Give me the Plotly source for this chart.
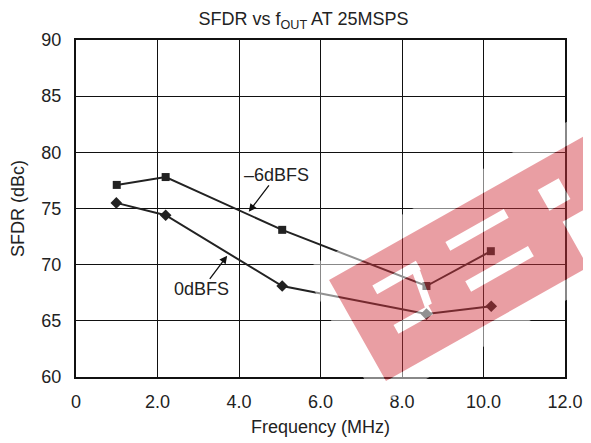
import math
import plotly.graph_objects as go

freq_6 = [1.0, 2.2, 5.06, 8.6, 10.18]
sfdr_6 = [77.1, 77.8, 73.1, 68.1, 71.2]
freq_0 = [0.99, 2.2, 5.06, 8.6, 10.19]
sfdr_0 = [75.5, 74.4, 68.1, 65.6, 66.3]

x_ticks = [0, 2, 4, 6, 8, 10, 12]
x_tick_labels = ["0", "2.0", "4.0", "6.0", "8.0", "10.0", "12.0"]
y_ticks = [60, 65, 70, 75, 80, 85, 90]

FONT = "Arial, Liberation Sans, sans-serif"
LINE = "#222222"
FS = 18

fig = go.Figure()
fig.add_trace(go.Scatter(x=freq_6, y=sfdr_6, mode="lines+markers", name="-6dBFS",
                         line=dict(color=LINE, width=2),
                         marker=dict(symbol="square", size=8, color=LINE)))
fig.add_trace(go.Scatter(x=freq_0, y=sfdr_0, mode="lines+markers", name="0dBFS",
                         line=dict(color=LINE, width=2),
                         marker=dict(symbol="diamond", size=9, color=LINE)))

fig.add_annotation(x=4.24, y=74.7, ax=4.93, ay=78.0, axref="x", ayref="y",
                   text="–6dBFS", showarrow=True, arrowhead=2, arrowsize=1.2,
                   arrowwidth=1.3, arrowcolor="#111", borderpad=0,
                   font=dict(family=FONT, size=FS, color="#222"))
fig.add_annotation(x=3.71, y=70.8, ax=3.09, ay=67.8, axref="x", ayref="y",
                   text="0dBFS", showarrow=True, arrowhead=2, arrowsize=1.2,
                   arrowwidth=1.3, arrowcolor="#111", borderpad=0,
                   font=dict(family=FONT, size=FS, color="#222"))

# ---- decorative rotated "stamp" watermark (not data) ----
ANG = math.radians(29.4)
CU, SU = math.cos(ANG), math.sin(ANG)
OX, OY = 384.0, 381.0            # stamp origin, image pixels
PL, PR, PT, PB = 74.0, 563.0, 40.0, 377.0   # plot-area pixel box


def to_paper(s, t):
    px = OX + CU * s - SU * t
    py = OY - SU * s - CU * t
    return (px - PL) / (PR - PL), (PB - py) / (PB - PT)


def sub(poly):
    pts = [to_paper(s, t) for s, t in poly]
    return "M " + " L ".join(f"{x:.4f} {y:.4f}" for x, y in pts) + " Z"


def rect(s0, s1, t0, t1):
    return [(s0, t0), (s1, t0), (s1, t1), (s0, t1)]


band = [(0, 0), (232, 0), (232, 52), (320, 52), (320, 116), (0, 116)]
holes = [
    rect(35, 85, 80, 90),
    rect(34, 74, 35, 45),
    [(70, 45), (78, 45), (84, 80), (76, 80)],
    rect(120, 187, 82, 92),
    rect(118, 190, 36, 48),
    rect(226, 250, 68, 92),
]
veil = rect(-18, 330, -18, 137)

red_path = " ".join([sub(band)] + [sub(h) for h in holes])
veil_path = " ".join([sub(veil), sub(band)] + [sub(h) for h in holes])

fig.add_shape(type="path", xref="paper", yref="paper", layer="above",
              path=veil_path, fillrule="evenodd",
              fillcolor="rgba(255,255,255,0.5)", line=dict(width=0))
fig.add_shape(type="path", xref="paper", yref="paper", layer="above",
              path=red_path, fillrule="evenodd",
              fillcolor="rgba(209,52,62,0.48)", line=dict(width=0))

fig.update_layout(
    width=591, height=443,
    margin=dict(l=68, r=34, t=32, b=74),
    paper_bgcolor="white", plot_bgcolor="white",
    showlegend=False,
    font=dict(family=FONT, size=FS, color="#222"),
    title=dict(text="SFDR vs f<sub>OUT</sub> AT 25MSPS", x=0.5, xanchor="center",
               y=0.975, yanchor="middle", font=dict(family=FONT, size=FS, color="#222")),
    xaxis=dict(range=[0, 12], tickmode="array", tickvals=x_ticks, ticktext=x_tick_labels,
               showgrid=True, gridcolor="#111", gridwidth=1, zeroline=False,
               showline=True, linecolor="#111", linewidth=2, mirror=True, ticks="",
               ticklabelstandoff=7, automargin=False,
               title=dict(text="Frequency (MHz)", font=dict(family=FONT, size=FS), standoff=10),
               tickfont=dict(family=FONT, size=FS)),
    yaxis=dict(range=[60, 90], tickmode="array", tickvals=y_ticks,
               showgrid=True, gridcolor="#111", gridwidth=1, zeroline=False,
               showline=True, linecolor="#111", linewidth=2, mirror=True, ticks="",
               ticklabelstandoff=9, automargin=False,
               title=dict(text="SFDR (dBc)", font=dict(family=FONT, size=FS), standoff=14),
               tickfont=dict(family=FONT, size=FS)),
)

fig.write_html("out.html")
